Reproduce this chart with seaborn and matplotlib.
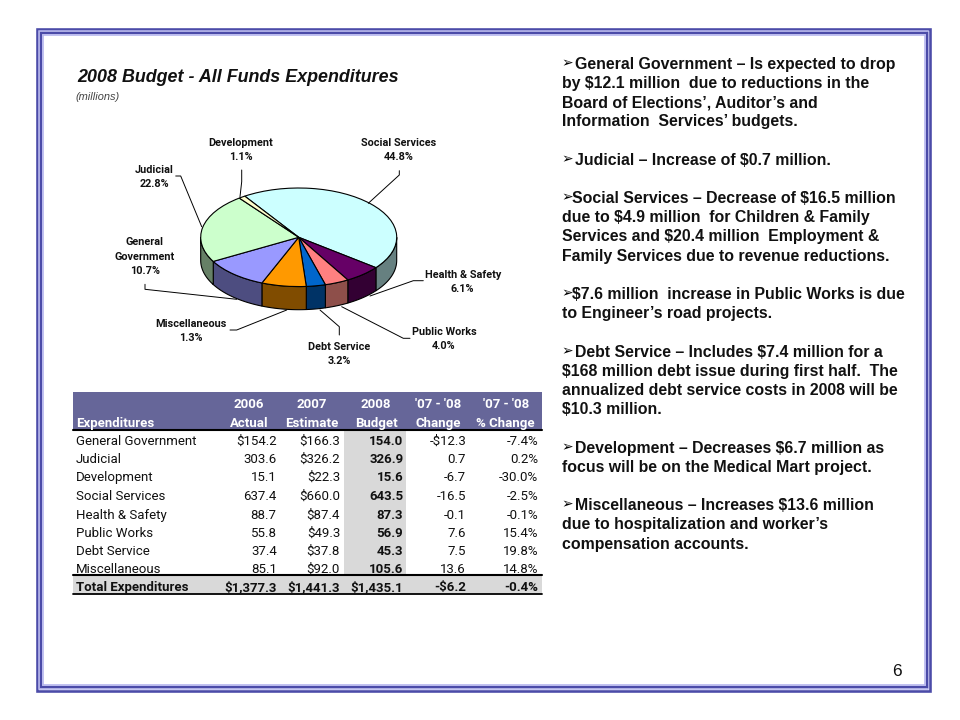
import numpy as np
import seaborn as sns
import matplotlib.pyplot as plt
from matplotlib.colors import ListedColormap
from matplotlib.patches import Rectangle

sns.set_theme(style="white")
plt.rcParams['font.family'] = ['Liberation Sans', 'DejaVu Sans']
NARROW = ['Roboto', 'Liberation Sans']

# table
categories = ['General Government', 'Judicial', 'Development', 'Social Services',
              'Health & Safety', 'Public Works', 'Debt Service', 'Miscellaneous']
actual_2006 = ['$154.2', '303.6', '15.1', '637.4', '88.7', '55.8', '37.4', '85.1']
estimate_2007 = ['$166.3', '$326.2', '$22.3', '$660.0', '$87.4', '$49.3', '$37.8', '$92.0']
budget_2008 = [154.0, 326.9, 15.6, 643.5, 87.3, 56.9, 45.3, 105.6]
change = ['-$12.3', '0.7', '-6.7', '-16.5', '-0.1', '7.6', '7.5', '13.6']
pct_change = ['-7.4%', '0.2%', '-30.0%', '-2.5%', '-0.1%', '15.4%', '19.8%', '14.8%']
total_row = ['$1,377.3', '$1,441.3', '$1,435.1', '-$6.2', '-0.4%']
header_top = ['2006', '2007', '2008', "'07 - '08", "'07 - '08"]
header_bottom = ['Actual', 'Estimate', 'Budget', 'Change', '% Change']

# pie, clockwise from the top left
pie_order = ['Social Services', 'Health & Safety', 'Public Works', 'Debt Service',
             'Miscellaneous', 'General Government', 'Judicial', 'Development']
pie_colors = ['#ccffff', '#660066', '#ff8080', '#0066cc',
              '#ff9900', '#9999ff', '#ccffcc', '#ffffcc']
wall_colors = ['#668080', '#330033', '#8e4f4a', '#003366',
               '#804c00', '#4d4d80', '#668066', '#808066']

# label text as printed on the chart
pie_labels = {
    'Development': ('Development\n1.1%', 241, 150, (241.7, 170), (241.7, 181.7), (240, 196.7)),
    'Social Services': ('Social Services\n44.8%', 399, 150, (399.3, 170.7), (399.3, 175), (368.3, 203.3)),
    'Judicial': ('Judicial\n22.8%', 154.3, 177, (175.7, 176), (180.7, 176), (201.7, 226.7)),
    'General Government': ('General\nGovernment\n10.7%', 144.7, 256.5, (145, 284.3), (145, 289.3), (236.7, 299.3)),
    'Health & Safety': ('Health & Safety\n6.1%', 462.7, 282, (423.3, 280.7), (413.3, 280.7), (370, 296)),
    'Public Works': ('Public Works\n4.0%', 444, 339, (410, 338.3), (403.3, 338.3), (341.7, 306.7)),
    'Debt Service': ('Debt Service\n3.2%', 339.3, 354, (339.3, 335), (339.3, 326.7), (320, 310)),
    'Miscellaneous': ('Miscellaneous\n1.3%', 191.3, 331, (230, 330), (236.7, 330), (286.7, 310)),
}

# right hand notes, one entry per line, None is a blank line
notes = [
    'General Government \u2013 Is expected to drop',
    'by $12.1 million  due to reductions in the',
    'Board of Elections\u2019, Auditor\u2019s and',
    'Information  Services\u2019 budgets.',
    None,
    'Judicial \u2013 Increase of $0.7 million.',
    None,
    'Social Services \u2013 Decrease of $16.5 million',
    'due to $4.9 million  for Children & Family',
    'Services and $20.4 million  Employment &',
    'Family Services due to revenue reductions.',
    None,
    '$7.6 million  increase in Public Works is due',
    'to Engineer\u2019s road projects.',
    None,
    'Debt Service \u2013 Includes $7.4 million for a',
    '$168 million debt issue during first half.  The',
    'annualized debt service costs in 2008 will be',
    '$10.3 million.',
    None,
    'Development \u2013 Decreases $6.7 million as',
    'focus will be on the Medical Mart project.',
    None,
    'Miscellaneous \u2013 Increases $13.6 million',
    'due to hospitalization and worker\u2019s',
    'compensation accounts.',
]
bullets = {0: 575, 5: 575, 7: 572.5, 12: 572.5, 15: 575, 20: 575, 23: 575}

W, H = 960, 720
fig = plt.figure(figsize=(W / 100, H / 100), dpi=100, facecolor='white')


def px_axes(x0, y0, x1, y1, **kw):
    return fig.add_axes([x0 / W, 1 - y1 / H, (x1 - x0) / W, (y1 - y0) / H], **kw)


# table backgrounds
tx0, tx1 = 72.7, 541.6
row_kind = np.array([[1], [1]] + [[0]] * 8 + [[2]])
ax_bg = px_axes(tx0, 392, tx1, 594, zorder=1)
sns.heatmap(row_kind, ax=ax_bg, cmap=ListedColormap(['white', '#666699', '#d9d9d9']),
            vmin=0, vmax=2, cbar=False, xticklabels=False, yticklabels=False)
ax_col = px_axes(343.5, 429, 406, 575, zorder=2)
sns.heatmap(np.ones((8, 1)), ax=ax_col, cmap=ListedColormap(['#d9d9d9']),
            cbar=False, xticklabels=False, yticklabels=False)

# pie, squashed to an ellipse, walls drawn from the same angles
by_name = dict(zip(categories, budget_2008))
values = np.array([by_name[c] for c in pie_order])
start = 123.4
depth = 23 / 49
pad = 0.03
ax_pie = px_axes(200.7 - 98 * pad, 188 - 49 * pad, 396.7 + 98 * pad, 309.7 + 49 * pad, zorder=3)
ax_pie.patch.set_alpha(0)
edges = start - np.concatenate([[0], np.cumsum(values)]) / values.sum() * 360
for i in range(len(values)):
    a0, a1 = edges[i], edges[i + 1]
    # lower half of the rim only
    for shift in (0, -360, 360):
        lo, hi = max(a1 + shift, -180), min(a0 + shift, 0)
        if hi > lo:
            t = np.radians(np.linspace(lo, hi, 40))
            xs = np.cos(t)
            ys = np.sin(t)
            ax_pie.fill(np.r_[xs, xs[::-1]], np.r_[ys, ys[::-1] - depth],
                        facecolor=wall_colors[i], edgecolor='black', lw=0.8)
ax_pie.pie(values, colors=pie_colors, startangle=start, counterclock=False, radius=1,
           wedgeprops={'edgecolor': 'black', 'linewidth': 0.8})
ax_pie.set_aspect('auto')
ax_pie.set_xlim(-1 - pad, 1 + pad)
ax_pie.set_ylim(-1 - depth - pad, 1 + pad)

# page level overlay in pixel units
ax = px_axes(0, 0, W, H, zorder=5)
ax.set_xlim(0, W)
ax.set_ylim(H, 0)
ax.axis('off')

# frame
for inset, lw, col in [(1.3, 2.6, '#4b4ba8'), (3.2, 1.5, '#b4b4ee'), (5.0, 2.4, '#4b4ba8'), (7.0, 1.6, '#b4b4ee')]:
    ax.add_patch(Rectangle((36 + inset, 28 + inset), 895.5 - 2 * inset, 664 - 2 * inset,
                           fill=False, ec=col, lw=lw * 0.72))

# titles
ax.text(77, 77, '2008 Budget - All Funds Expenditures', fontsize=12.9, fontweight='bold',
        fontstyle='italic', ha='left', va='center', color='#111111')
ax.text(75, 97.5, '(millions)', fontsize=7.9, fontstyle='italic', ha='left', va='center', color='#444444')

# pie labels and leader lines
for name, (txt, x, y, p0, p1, p2) in pie_labels.items():
    ax.plot([p0[0], p1[0], p2[0]], [p0[1], p1[1], p2[1]], color='black', lw=0.7)
    ax.text(x, y, txt, ha='center', va='center', fontsize=7.8, fontweight='bold',
            family=NARROW, linespacing=1.55, color='#111111')

# table text, on a shared baseline so $ signs do not push a cell around
col_right = [276.7, 340, 403.3, 466, 538.3]
col_mid = [249, 312, 376, 438, 505.7]
table_cols = [actual_2006, estimate_2007, [f'{v:.1f}' for v in budget_2008], change, pct_change]
fs = 9.5
base = 4.6
row_y = [440, 458.3, 476.7, 495, 514, 532, 550, 568]
for c in range(5):
    ax.text(col_mid[c], 403 + base, header_top[c], ha='center', va='baseline', color='white',
            fontweight='bold', fontsize=fs, family=NARROW)
    ax.text(col_mid[c], 422 + base, header_bottom[c], ha='center', va='baseline', color='white',
            fontweight='bold', fontsize=fs, family=NARROW)
    for r, y in enumerate(row_y):
        ax.text(col_right[c], y + base, table_cols[c][r], ha='right', va='baseline', fontsize=fs,
                family=NARROW, fontweight='bold' if c == 2 else 'normal', color='#111111')
    ax.text(col_right[c], 586.7 + base, total_row[c], ha='right', va='baseline', fontsize=fs,
            family=NARROW, fontweight='bold', color='#111111')
ax.text(75.7, 422 + base, 'Expenditures', ha='left', va='baseline', color='white', fontweight='bold',
        fontsize=fs, family=NARROW)
for r, y in enumerate(row_y):
    ax.text(75.7, y + base, categories[r], ha='left', va='baseline', fontsize=fs, family=NARROW, color='#111111')
ax.text(75.7, 586.7 + base, 'Total Expenditures', ha='left', va='baseline', fontsize=fs, family=NARROW,
        fontweight='bold', color='#111111')
ax.plot([tx0, tx1], [429.5, 429.5], color='black', lw=1.5)
ax.plot([tx0, tx1], [574.8, 574.8], color='black', lw=1.5)
ax.plot([tx0, tx1], [594, 594], color='black', lw=1.3)

# notes
for i, line in enumerate(notes):
    if line is None:
        continue
    y = 63 + 19.2 * i
    x = bullets.get(i, 562)
    if i in bullets:
        ax.text(561, y, '\u27a2', ha='left', va='center', fontsize=10, family='DejaVu Sans', color='black')
    ax.text(x, y + 5.6, line, ha='left', va='baseline', fontsize=11.4, fontweight='bold', color='#111111')

ax.text(897, 672, '6', ha='center', va='center', fontsize=12.5, color='#111111')

fig.savefig('out.png', dpi=100)
